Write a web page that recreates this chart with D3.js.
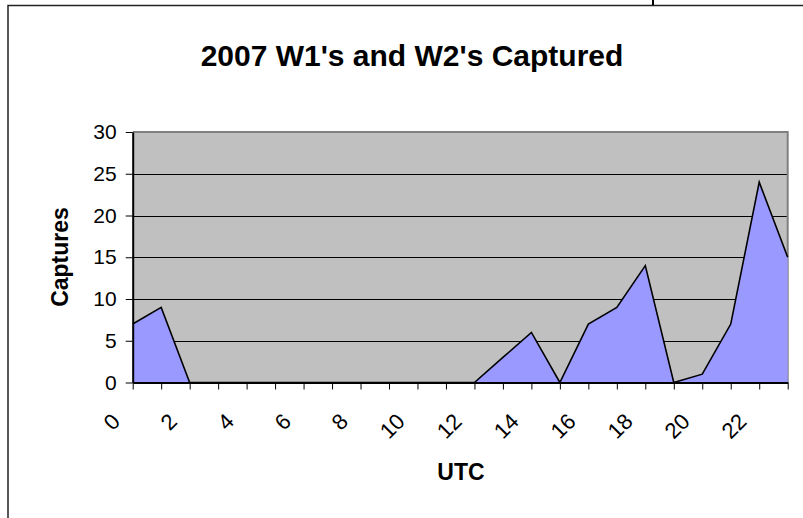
<!DOCTYPE html>
<html>
<head>
<meta charset="utf-8">
<script src="https://cdn.jsdelivr.net/npm/d3@7"></script>
<style>
  body { margin: 0; background: #fff; }
  svg { display: block; }
  text { font-family: Arial, "Liberation Sans", sans-serif; fill: #000; }
</style>
</head>
<body>
<svg width="803" height="518"></svg>
<script>
// hours 0..23 UTC
var hours = d3.range(0, 24);
var captures = [7, 9, 0, 0, 0, 0, 0, 0, 0, 0, 0, 0, 0, 3, 6, 0, 7, 9, 14, 0, 1, 7, 24, 15];
var yTicks = [0, 5, 10, 15, 20, 25, 30];
var xTickLabels = [0, 2, 4, 6, 8, 10, 12, 14, 16, 18, 20, 22];

var chartTitle = "2007 W1's and W2's Captured";
var xTitle = "UTC";
var yTitle = "Captures";

var svg = d3.select("svg");

var plot = { left: 132.7, right: 787.7, top: 132, bottom: 382.5 };

var x = d3.scaleLinear().domain([0, 23]).range([plot.left, plot.right]);
var y = d3.scaleLinear().domain([0, 30]).range([plot.bottom, plot.top]);

// chart frame (only top and left visible in the crop)
svg.append("path")
  .attr("d", "M8,518 L8,5.5 L803,5.5")
  .attr("fill", "none")
  .attr("stroke", "#222")
  .attr("stroke-width", 1.5);
svg.append("line")
  .attr("x1", 653).attr("x2", 653).attr("y1", 0).attr("y2", 5)
  .attr("stroke", "#000").attr("stroke-width", 2);

// plot background
svg.append("rect")
  .attr("x", plot.left).attr("y", plot.top)
  .attr("width", plot.right - plot.left)
  .attr("height", plot.bottom - plot.top)
  .attr("fill", "#c0c0c0");

// gridlines
svg.append("g")
  .selectAll("line")
  .data(yTicks.filter(d => d > 0 && d < 30))
  .enter()
  .append("line")
  .attr("x1", plot.left).attr("x2", plot.right)
  .attr("y1", d => Math.round(y(d)) + 0.5)
  .attr("y2", d => Math.round(y(d)) + 0.5)
  .attr("stroke", "#000")
  .attr("stroke-width", 1);

// plot border top + right
svg.append("path")
  .attr("d", "M" + plot.left + "," + plot.top + " L" + plot.right + "," + plot.top + " L" + plot.right + "," + plot.bottom)
  .attr("fill", "none")
  .attr("stroke", "#808080")
  .attr("stroke-width", 2);

// area
var area = d3.area()
  .x((d, i) => x(hours[i]))
  .y0(plot.bottom)
  .y1(d => y(d));

var line = d3.line()
  .x((d, i) => x(hours[i]))
  .y(d => y(d));

svg.append("path")
  .datum(captures)
  .attr("d", area)
  .attr("fill", "#9999ff");

svg.append("path")
  .datum(captures)
  .attr("d", line)
  .attr("fill", "none")
  .attr("stroke", "#000")
  .attr("stroke-width", 1.6)
  .attr("stroke-linejoin", "miter");

// y axis
var yAxis = d3.axisLeft(y)
  .tickValues(yTicks)
  .tickSize(7)
  .tickPadding(9)
  .tickSizeOuter(0);

var gy = svg.append("g")
  .attr("transform", "translate(" + plot.left + ",0)")
  .call(yAxis);
gy.select(".domain").attr("stroke", "#000").attr("stroke-width", 2);
gy.selectAll(".tick line").attr("stroke", "#000");
gy.selectAll(".tick text")
  .attr("font-size", 21)
  .attr("font-family", "Arial, 'Liberation Sans', sans-serif")
  .attr("fill", "#000");

// x axis: tick at every hour, label every second hour
var xAxis = d3.axisBottom(x)
  .tickValues(hours)
  .tickSize(7)
  .tickSizeOuter(0)
  .tickFormat(d => xTickLabels.indexOf(d) >= 0 ? d : "");

var gx = svg.append("g")
  .attr("transform", "translate(0," + plot.bottom + ")")
  .call(xAxis);
gx.select(".domain").attr("stroke", "#000").attr("stroke-width", 2);
gx.selectAll(".tick line").attr("stroke", "#000");
gx.selectAll(".tick text")
  .attr("font-size", 22)
  .attr("font-family", "Arial, 'Liberation Sans', sans-serif")
  .attr("fill", "#000")
  .attr("text-anchor", "end")
  .attr("dy", null)
  .attr("y", null)
  .attr("dominant-baseline", "central")
  .attr("transform", "translate(-17,35) rotate(-45)");

// titles
svg.append("text")
  .attr("x", 412)
  .attr("y", 66)
  .attr("text-anchor", "middle")
  .attr("font-size", 30)
  .attr("font-weight", "bold")
  .text(chartTitle);

svg.append("text")
  .attr("x", 461)
  .attr("y", 480)
  .attr("text-anchor", "middle")
  .attr("font-size", 23)
  .attr("font-weight", "bold")
  .text(xTitle);

svg.append("text")
  .attr("transform", "translate(68,257) rotate(-90)")
  .attr("text-anchor", "middle")
  .attr("font-size", 23)
  .attr("font-weight", "bold")
  .text(yTitle);
</script>
</body>
</html>
